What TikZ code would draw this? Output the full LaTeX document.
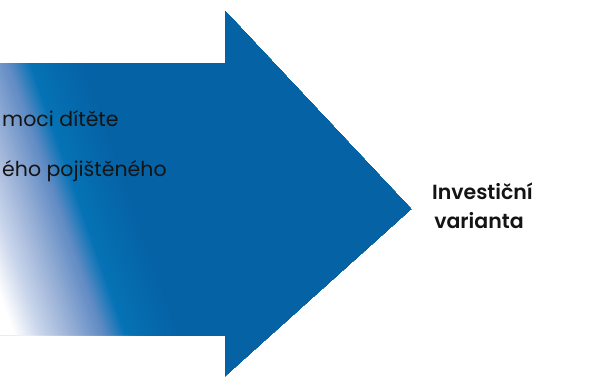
\documentclass[tikz,border=0pt]{standalone}
\usepackage{fontspec}
\setmainfont{Poppins}
\newfontfamily\boldfam{Poppins SemiBold}
\definecolor{arrowblue}{HTML}{0562A5}
\definecolor{bandblue}{HTML}{0573B5}
\definecolor{gA}{HTML}{C9D5EB}
\definecolor{gB}{HTML}{97AFD6}
\definecolor{gC}{HTML}{5E8AC3}
\definecolor{txt}{HTML}{141414}
\newcommand\gstrip[2]{%
  \pgfmathsetmacro\px{125+0.944*(#1)}%
  \pgfmathsetmacro\py{335-0.33*(#1)}%
  \fill[#2] (\px-330,\py-944) -- (\px+330,\py+944) -- (\px+330+944,\py+944-330) -- (\px-330+944,\py-944-330) -- cycle;}
\newcommand\gseg[5]{% from, to, step, colA, colB
  \foreach \s in {#1,#3,...,#2}{%
    \pgfmathsetmacro\pp{100*((\s)-(#1))/((#2)-(#1))}%
    \colorlet{cc}{#5!\pp!#4}%
    \gstrip{\s}{cc}}}
\tikzset{
  lefttext/.style={anchor=base west, inner sep=0pt, text=txt, font=\fontsize{20.5}{24}\selectfont},
  righttext/.style={anchor=base, inner sep=0pt, text=txt, font=\boldfam\fontsize{20.5}{24}\selectfont}
}
\begin{document}
\begin{tikzpicture}[x=1pt,y=-1pt]
\useasboundingbox (0,0) rectangle (603,376);
\fill[white] (0,0) rectangle (603,376);
\begin{scope}
  \clip (0,63) -- (225,63) -- (225,11) -- (411,209) -- (225,376) -- (225,335) -- (0,335) -- cycle;
  \fill[arrowblue] (0,0) rectangle (603,376);
  \gstrip{-140}{white}
  \gseg{-105}{-80}{-103.5}{white}{gA}
  \gseg{-80}{-50}{-78.5}{gA}{gB}
  \gseg{-50}{-20}{-48.5}{gB}{gC}
  \gseg{-20}{0}{-18.5}{gC}{bandblue}
  \gseg{0}{50}{1.5}{bandblue}{arrowblue}
\end{scope}
\node[lefttext] (t1) at (2,126) {moci dítěte};
\node[lefttext] (t2) at (2,176) {ého pojištěného};
\node[righttext] (t3) at (482.5,199) {Investiční};
\node[righttext] (t4) at (479,228) {varianta};
\end{tikzpicture}
\end{document}
